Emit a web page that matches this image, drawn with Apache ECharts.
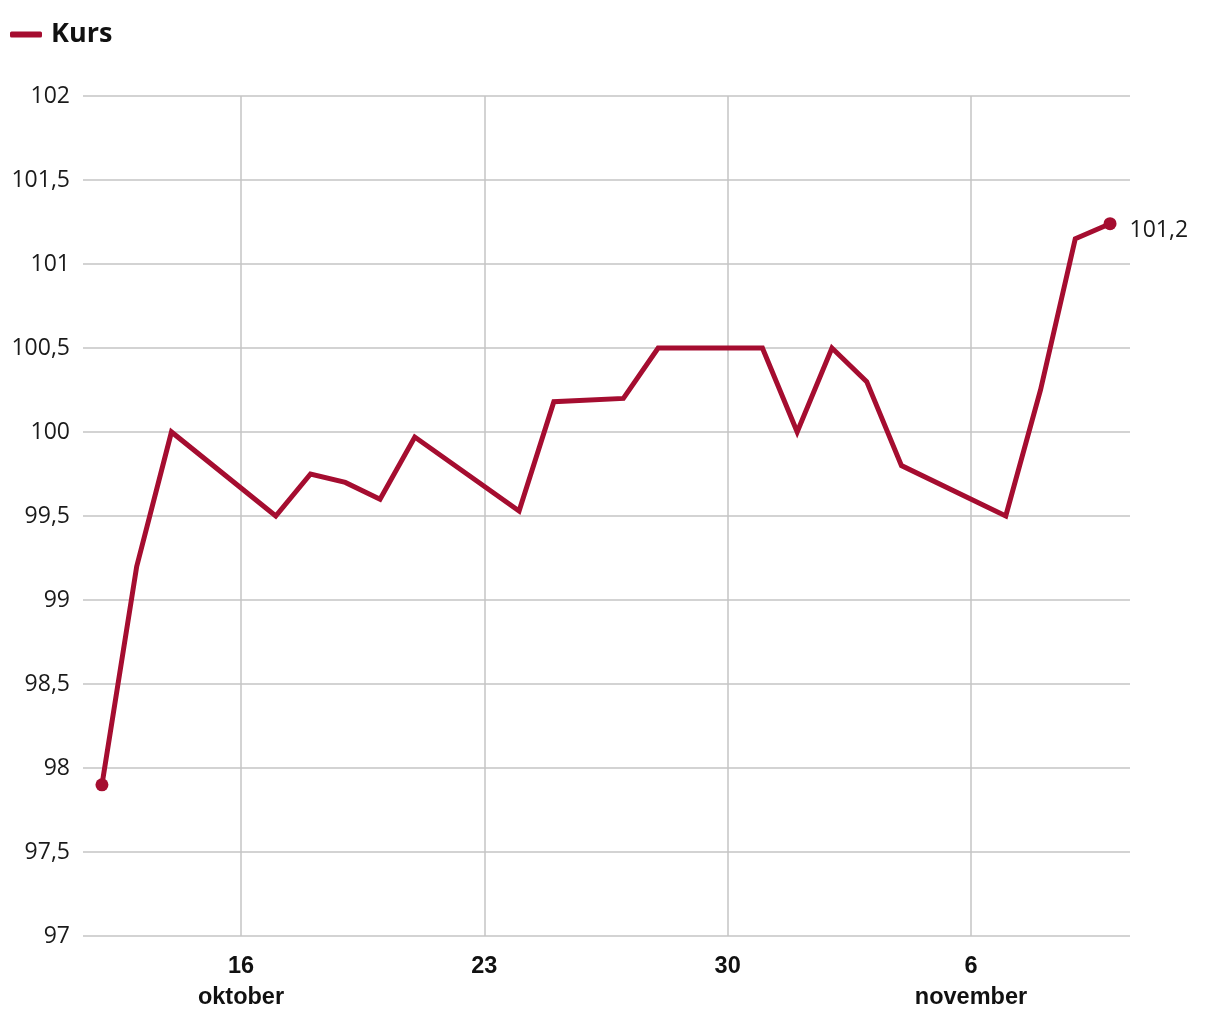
<!DOCTYPE html>
<html>
<head>
<meta charset="utf-8">
<script src="https://cdn.jsdelivr.net/npm/echarts@6/dist/echarts.min.js"></script>
<style>
html,body{margin:0;padding:0;background:#fff;}
#chart{width:1220px;height:1020px;}
</style>
</head>
<body>
<div id="chart"></div>
<script>
// ---- data ----
const seriesName = 'Kurs';
const dates = ['2022-10-12','2022-10-13','2022-10-14','2022-10-17','2022-10-18','2022-10-19','2022-10-20','2022-10-21',
  '2022-10-24','2022-10-25','2022-10-27','2022-10-28','2022-10-31','2022-11-01','2022-11-02','2022-11-03','2022-11-04',
  '2022-11-07','2022-11-08','2022-11-09','2022-11-10'];
const values = [97.9, 99.2, 100.0, 99.5, 99.75, 99.7, 99.6, 99.97,
  99.53, 100.18, 100.2, 100.5, 100.5, 100.0, 100.5, 100.3, 99.8,
  99.5, 100.25, 101.15, 101.24];
const tickDates = ['2022-10-16','2022-10-23','2022-10-30','2022-11-06'];
const tickLabels = ['16\noktober','23','30','6\nnovember'];
const yMin = 97, yMax = 102, yStep = 0.5;

// day number: days since 2022-09-30
const base = Date.UTC(2022, 8, 30);
function dayNum(s){ const p = s.split('-').map(Number); return (Date.UTC(p[0], p[1]-1, p[2]) - base) / 86400000; }
const xs = dates.map(dayNum);
const tickXs = tickDates.map(dayNum);

const color = '#a50d30';
const seriesData = xs.map((x, i) => {
  const item = { value: [x, values[i]] };
  if (i === 0 || i === xs.length - 1) {
    item.symbol = 'circle';
    item.symbolSize = 13;
  }
  if (i === xs.length - 1) {
    item.label = {
      show: true, position: 'right', distance: 13, offset: [0, 7],
      formatter: p => p.value[1].toFixed(1).replace('.', ','),
      fontFamily: 'Open Sans', fontSize: 23, color: '#1a1a1a'
    };
  }
  return item;
});

const chart = echarts.init(document.getElementById('chart'), null, { renderer: 'canvas' });
chart.setOption({
  animation: false,
  backgroundColor: '#ffffff',
  legend: {
    show: true, left: 10, top: 21, padding: 0,
    icon: 'roundRect', itemWidth: 32, itemHeight: 6, itemGap: 10,
    textStyle: { fontFamily: 'Open Sans', fontWeight: 'bold', fontSize: 27, color: '#111', padding: [0, 0, 0, 4] },
    data: [seriesName]
  },
  grid: { left: 83, right: 90, top: 96, bottom: 84, containLabel: false },
  xAxis: {
    type: 'value',
    min: dayNum('2022-10-11') + 0.455,
    max: dayNum('2022-11-10') + 0.574,
    axisLine: { show: false },
    axisTick: { show: false, customValues: tickXs },
    splitLine: { show: true, lineStyle: { color: '#c4c4c4', width: 1.5 } },
    axisLabel: {
      customValues: tickXs,
      margin: 15,
      fontFamily: 'Liberation Sans', fontWeight: 'bold', fontSize: 23.5, color: '#111',
      lineHeight: 31,
      formatter: v => { const i = tickXs.indexOf(v); return i >= 0 ? tickLabels[i] : ''; }
    }
  },
  yAxis: {
    type: 'value', min: yMin, max: yMax, interval: yStep,
    axisLine: { show: false }, axisTick: { show: false },
    splitLine: { show: true, lineStyle: { color: '#c4c4c4', width: 1.5 } },
    axisLabel: {
      margin: 13, fontFamily: 'Open Sans', fontSize: 23, color: '#1a1a1a',
      formatter: v => String(v).replace('.', ',')
    }
  },
  series: [{
    name: seriesName, type: 'line', data: seriesData,
    symbol: 'none', showSymbol: true,
    itemStyle: { color: color },
    lineStyle: { color: color, width: 5, join: 'miter' },
    z: 5
  }]
});
</script>
</body>
</html>
